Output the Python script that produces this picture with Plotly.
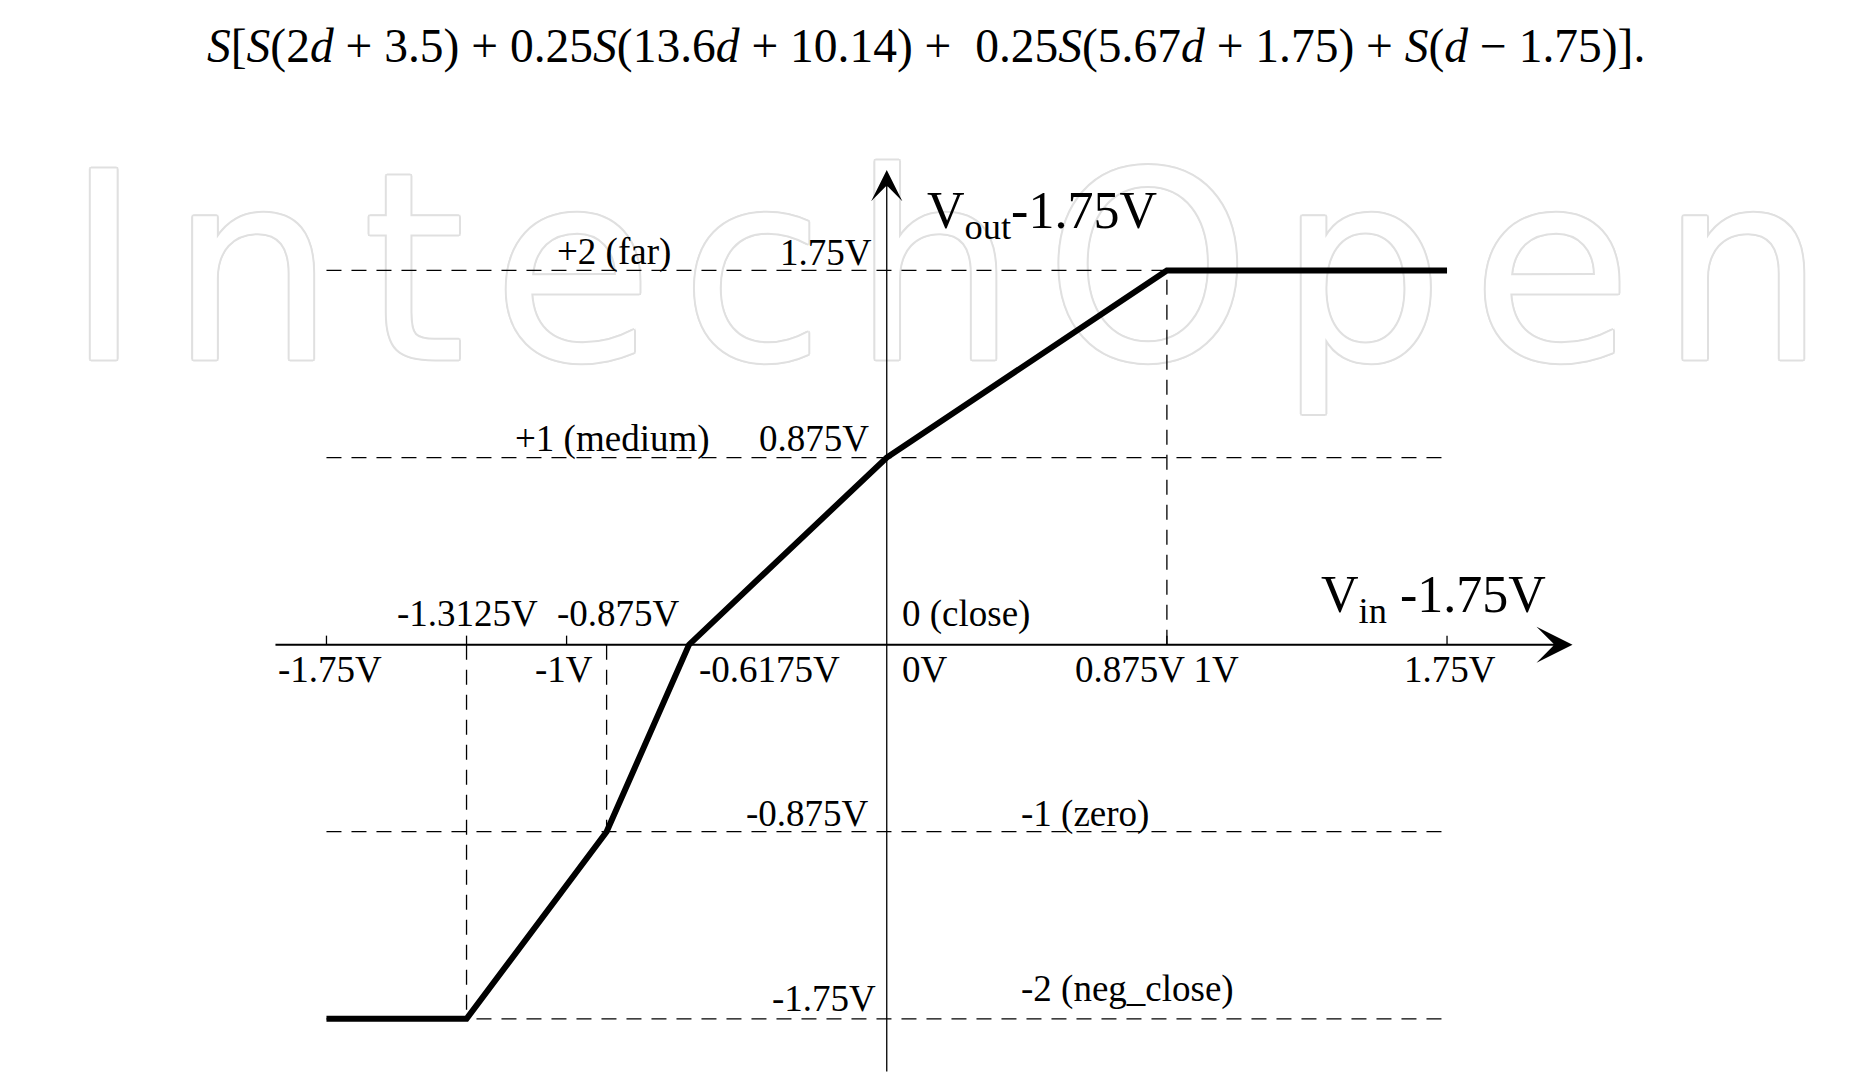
import plotly.graph_objects as go

# ---------------- data ----------------
vin_pts = [-1.75, -1.3125, -0.875, -0.6175, 0.0, 0.875, 1.75]
vout_pts = [-1.75, -1.75, -0.875, 0.0, 0.875, 1.75, 1.75]

levels = [1.75, 0.875, -0.875, -1.75]
level_names = ["+2 (far)", "+1 (medium)", "-1 (zero)", "-2 (neg_close)"]
level_volts = ["1.75V", "0.875V", "-0.875V", "-1.75V"]

xtick_vals = [-1.75, -1.3125, -1.0, 0.875, 1.75]
xlim = [-1.75, 1.75]

# vertical guide lines: (x, y_from 0 to y)
vguides_x = [-1.3125, -0.875, 0.875]
vguides_y = [-1.75, -0.875, 1.75]

FONT = "Liberation Serif"
BLACK = "black"

fig = go.Figure()

# watermark (drawn first so everything else lies above it)
wm_shadow = ", ".join(
    f"{dx}px {dy}px 0 #e0e0e0"
    for dx, dy in [(2, 0), (-2, 0), (0, 2), (0, -2), (1.5, 1.5), (-1.5, -1.5), (1.5, -1.5), (-1.5, 1.5)]
)
gap = "<span style='font-size:85px'>\u00a0</span>"
fig.add_trace(go.Scatter(
    x=[0.183], y=[1.64], mode="text",
    text=[gap.join("IntechOpen")],
    textposition="middle center",
    textfont=dict(family="DejaVu Sans", size=262, color="white", shadow=wm_shadow),
    hoverinfo="skip", showlegend=False, cliponaxis=False,
))

# transfer curve
fig.add_trace(go.Scatter(
    x=vin_pts, y=vout_pts, mode="lines",
    line=dict(color=BLACK, width=6), hoverinfo="skip", showlegend=False,
))

shapes = []
dash = "15px,10px"
for lv in levels:
    shapes.append(dict(type="line", xref="x", yref="y", x0=xlim[0], x1=xlim[1], y0=lv, y1=lv,
                       line=dict(color=BLACK, width=1.3, dash=dash)))
for gx, gy in zip(vguides_x, vguides_y):
    shapes.append(dict(type="line", xref="x", yref="y", x0=gx, x1=gx, y0=0, y1=gy,
                       line=dict(color=BLACK, width=1.3, dash=dash)))
for tv in xtick_vals:
    shapes.append(dict(type="line", xref="x", yref="y", ysizemode="pixel", yanchor=0,
                       x0=tv, x1=tv, y0=0, y1=9, line=dict(color=BLACK, width=1.3)))

ann = []
# axes with arrows
ann.append(dict(x=2.142, y=0, ax=-1.914, ay=0, xref="x", yref="y", axref="x", ayref="y",
                text="", showarrow=True, arrowhead=3, arrowsize=3, arrowwidth=2,
                arrowcolor=BLACK, standoff=0))
ann.append(dict(x=0, y=2.220, ax=0, ay=-2.004, xref="x", yref="y", axref="x", ayref="y",
                text="", showarrow=True, arrowhead=3, arrowsize=4, arrowwidth=1.3,
                arrowcolor=BLACK, standoff=0))

f = dict(family=FONT, size=37, color=BLACK)
fbig = dict(family=FONT, size=52, color=BLACK)

def lab(text, x, y, xa="center", ya="middle", xs=0, ys=0, font=f):
    ann.append(dict(text=text, x=x, y=y, xref="x", yref="y", xanchor=xa, yanchor=ya,
                    xshift=xs, yshift=ys, showarrow=False, font=font))

# level labels
lab(level_volts[0], 0, levels[0], xa="right", xs=-13, ys=18)
lab(level_names[0], -0.853, levels[0], ys=18)
lab(level_volts[1], 0, levels[1], xa="right", xs=-16, ys=19)
lab(level_names[1], -0.5465, levels[1], xa="right", ys=19)
lab(level_volts[2], 0, levels[2], xa="right", xs=-16, ys=18)
lab(level_names[2], 0.412, levels[2], xa="left", ys=18)
lab(level_volts[3], 0, levels[3], xa="right", xs=-9, ys=20)
lab(level_names[3], 0.412, levels[3], xa="left", ys=30)

# labels below x axis
lab("-1.75V", -1.75, 0, ys=-25, xs=4)
lab("-1V", -1.0, 0, ys=-25, xs=-3)
lab("-0.6175V", -0.6175, 0, xa="left", xs=8, ys=-25)
lab("0V", 0, 0, xa="left", xs=13, ys=-25)
lab("0.875V 1V", 0.875, 0, xa="left", xs=-94, ys=-25)
lab("1.75V", 1.75, 0, ys=-25, xs=3)

# labels above x axis
lab("-1.3125V", -1.3125, 0, ys=31, xs=1)
lab("-0.875V", -0.875, 0, ys=31, xs=12)
lab("0 (close)", 0, 0, xa="left", xs=13, ys=31)

# axis titles
lab("V<sub>in</sub> -1.75V", 1.35, 0, xa="left", ys=46, font=fbig)
lab("V<sub>out</sub>-1.75V", 0, 1.75, xa="left", xs=38, ys=56, font=fbig)

# formula
ann.append(dict(
    text=("<i>S</i>[<i>S</i>(2<i>d</i> + 3.5) + 0.25<i>S</i>(13.6<i>d</i> + 10.14) +\u00a0 "
          "0.25<i>S</i>(5.67<i>d</i> + 1.75) + <i>S</i>(<i>d</i> \u2212 1.75)]."),
    x=0.4955, y=1 - 46 / 1090, xref="paper", yref="paper", xanchor="center", yanchor="middle",
    showarrow=False, font=dict(family=FONT, size=47.5, color=BLACK)))

fig.update_layout(
    width=1869, height=1090, autosize=False,
    margin=dict(l=0, r=0, t=0, b=0, pad=0),
    paper_bgcolor="white", plot_bgcolor="white",
    xaxis=dict(range=[-2.7697, 3.068], visible=False, fixedrange=True),
    yaxis=dict(range=[-2.083, 3.015], visible=False, fixedrange=True),
    shapes=shapes, annotations=ann, showlegend=False,
)

fig.write_html("out.html")
